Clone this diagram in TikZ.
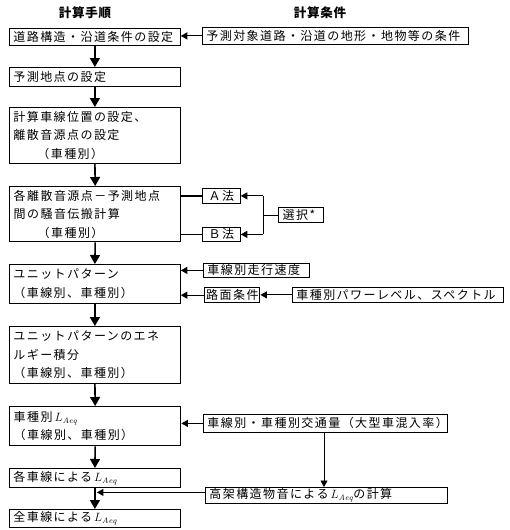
\documentclass[tikz,border=0pt]{standalone}
\usepackage{fontspec}
\newfontfamily\cjk[LetterSpace=12]{Noto Sans CJK JP}
\newfontfamily\cjkh[LetterSpace=6]{Noto Sans CJK JP}
\usetikzlibrary{arrows.meta,calc}
\tikzset{
  box/.style={draw, line width=0.8pt, anchor=north west, inner xsep=4pt, inner ysep=0pt,
    align=left, font=\cjk\fontsize{12}{18.5}\selectfont},
  thickbox/.style={box, line width=1.4pt},
  cbox/.style={box, align=center},
  hdr/.style={font=\cjkh\bfseries\fontsize{12.5}{14}\selectfont},
  varr/.style={line width=1.6pt, -{Triangle[length=9pt,width=10pt]}},
  harr/.style={line width=1.1pt, -{Triangle[length=6.5pt,width=7pt]}},
  plain/.style={line width=0.8pt},
}
\newcommand{\Laeq}{\,$L_{\mathit{Aeq}}$}
\begin{document}
\begin{tikzpicture}[x=1pt,y=-1pt]
\useasboundingbox[fill=white] (0,0) rectangle (509,530);
% headers
\node[hdr] (h1) at (85,13) {計算手順};
\node[hdr] (h2) at (320,13) {計算条件};
% main column
\node[box, text width=163pt, minimum height=17pt] (b1) at (9,28) {道路構造・沿道条件の設定};
\node[box, text width=163pt, minimum height=19pt] (b2) at (9,67) {予測地点の設定};
\node[box, text width=163pt, minimum height=56pt] (b3) at (9,107) {計算車線位置の設定、\\離散音源点の設定\\\hspace*{2em}（車種別）};
\node[thickbox, text width=163pt, minimum height=55pt] (b4) at (9,186) {各離散音源点－予測地点\\間の騒音伝搬計算\\\hspace*{2em}（車種別）};
\node[box, text width=163pt, minimum height=39pt] (b5) at (9,264) {ユニットパターン\\（車線別、車種別）};
\node[box, text width=163pt, minimum height=57pt] (b6) at (9,326) {ユニットパターンのエネ\\ルギー積分\\（車線別、車種別）};
\node[thickbox, text width=163pt, minimum height=39pt] (b7) at (9,406) {車種別\Laeq\\（車線別、車種別）};
\node[box, text width=163pt, minimum height=19pt] (b8) at (9,468) {各車線による\Laeq};
\node[box, text width=163pt, minimum height=18pt] (b9) at (9,509) {全車線による\Laeq};
% right column
\node[box, text width=258pt, minimum height=17pt] (c1) at (202,27) {予測対象道路・沿道の地形・地物等の条件};
\node[cbox, text width=30pt, minimum height=15pt] (A) at (202,188) {Ａ法};
\node[cbox, text width=30pt, minimum height=14pt] (B) at (202,227) {Ｂ法};
\node[thickbox, text width=37pt, minimum height=15pt] (sel) at (278,207) {選択*};
\node[box, text width=98pt, minimum height=14pt] (spd) at (203,263) {車線別走行速度};
\node[thickbox, inner xsep=1.5pt, text width=52pt, minimum height=15pt] (road) at (204,287) {路面条件};
\node[box, text width=203pt, minimum height=15pt] (pow) at (292,287) {車種別パワーレベル、スペクトル};
\node[box, text width=236pt, minimum height=18pt] (vol) at (203,414) {車線別・車種別交通量（大型車混入率）};
\node[box, text width=234pt, minimum height=16pt] (elev) at (205,487) {高架構造物音による\Laeq の計算};
% connectors, main column
\draw[varr] (b1.south) -- (b2.north);
\draw[varr] (b2.south) -- (b3.north);
\draw[varr] (b3.south) -- (b4.north);
\draw[varr] (b4.south) -- (b5.north);
\draw[varr] (b5.south) -- (b6.north);
\draw[varr] (b6.south) -- (b7.north);
\draw[varr] (b7.south) -- (b8.north);
\draw[varr] (b8.south) -- (b9.north);
% right-side connectors
\draw[harr] (c1.west) -- (c1.west -| b1.east);
\draw[line width=1.6pt] (A.west -| b4.east) -- (A.west);
\draw[plain] (B.west -| b4.east) -- (B.west);
\coordinate (bk) at (263,0);
\draw[plain] (sel.west) -- (sel.west -| bk);
\draw[plain] (A.east -| bk) -- (B.east -| bk);
\draw[harr] (A.east -| bk) -- (A.east);
\draw[harr] (B.east -| bk) -- (B.east);
\draw[harr] (spd.west) -- (spd.west -| b5.east);
\draw[harr] (road.west) -- (road.west -| b5.east);
\draw[harr] (pow.west) -- (pow.west -| road.east);
\draw[harr] (vol.west) -- (vol.west -| b7.east);
\coordinate (vx) at (324,0);
\draw[harr, line width=0.8pt] (vol.south -| vx) -- (elev.north -| vx);
\draw[harr, shorten >=2pt] ([yshift=3pt]elev.west) -- ([yshift=3pt]elev.west -| b8.south);
\end{tikzpicture}
\end{document}
